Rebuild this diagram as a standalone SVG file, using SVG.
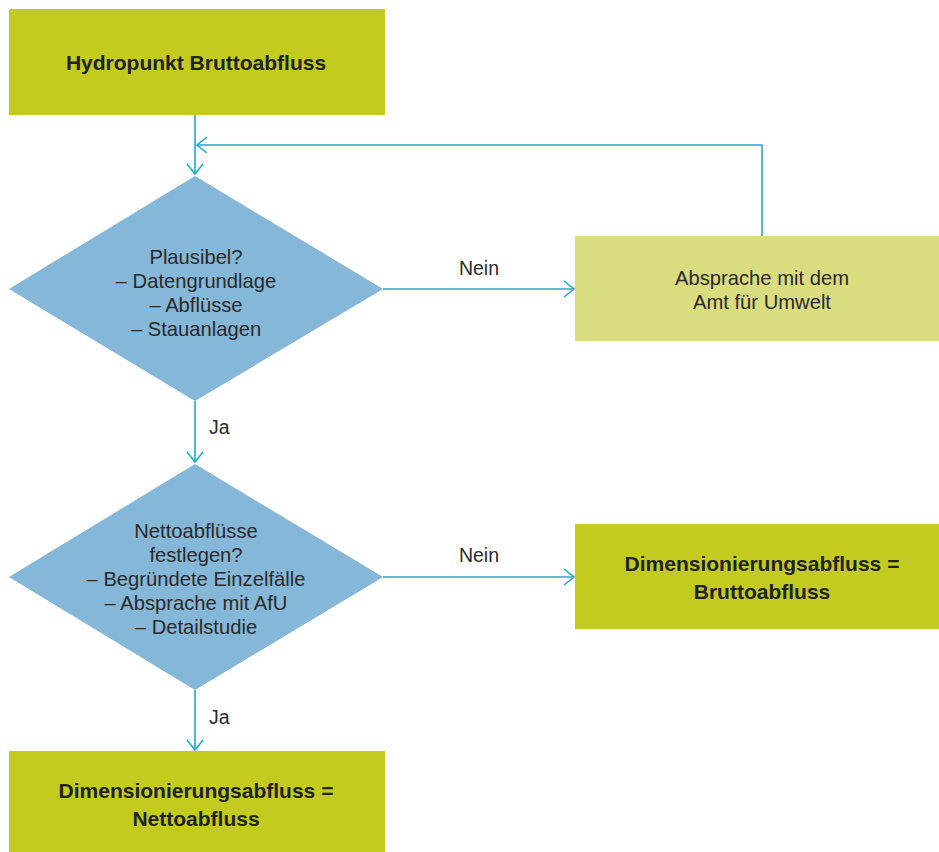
<svg xmlns="http://www.w3.org/2000/svg" width="939" height="852" viewBox="0 0 939 852">
<defs>
<marker id="arr" markerUnits="userSpaceOnUse" viewBox="-12 -10 14 20" refX="0" refY="0" markerWidth="14" markerHeight="20" orient="auto">
<path d="M-10,-8 L0,0 L-10,8" fill="none" stroke="#1FA8D4" stroke-width="1.6"/>
</marker>
<style>
.lime{fill:#C3CB1F}
.pale{fill:#DADC80}
.dia{fill:#84B7D8}
.b{font-family:"Liberation Sans",Arial,sans-serif;font-weight:bold;font-size:21px;fill:#222;text-anchor:middle}
.r{font-family:"Liberation Sans",Arial,sans-serif;font-size:20.2px;fill:#2a2a2a;text-anchor:middle}
.l{font-family:"Liberation Sans",Arial,sans-serif;font-size:19.5px;fill:#2a2a2a}
.c{fill:none;stroke:#1FA8D4;stroke-width:1.6}
</style>
</defs>
<rect width="939" height="852" fill="#fff"/>
<g id="connectors">
<path class="c" d="M195,115 V174" marker-end="url(#arr)"/>
<path class="c" d="M762,236 V145 H197" marker-end="url(#arr)"/>
<path class="c" d="M383,289 H574" marker-end="url(#arr)"/>
<path class="c" d="M195,401 V462" marker-end="url(#arr)"/>
<path class="c" d="M383,577 H574" marker-end="url(#arr)"/>
<path class="c" d="M195,690 V750" marker-end="url(#arr)"/>
<text class="l" x="479" y="275" text-anchor="middle">Nein</text>
<text class="l" x="479" y="562" text-anchor="middle">Nein</text>
<text class="l" x="209" y="434">Ja</text>
<text class="l" x="209" y="724">Ja</text>
</g>
<g id="start">
<rect class="lime" x="9" y="9" width="376" height="106"/>
<text class="b" x="196" y="70">Hydropunkt Bruttoabfluss</text>
</g>
<g id="plausibel">
<polygon class="dia" points="195,176 383,289 195,401 9,289"/>
<text class="r" x="196" y="264">Plausibel?</text>
<text class="r" x="196" y="288">– Datengrundlage</text>
<text class="r" x="196" y="312">– Abflüsse</text>
<text class="r" x="196" y="336">– Stauanlagen</text>
</g>
<g id="absprache">
<rect class="pale" x="575" y="236" width="364" height="105"/>
<text class="r" x="762" y="285">Absprache mit dem</text>
<text class="r" x="762" y="309">Amt für Umwelt</text>
</g>
<g id="netto">
<polygon class="dia" points="195,464 383,577 195,690 9,577"/>
<text class="r" x="196" y="538">Nettoabflüsse</text>
<text class="r" x="196" y="562">festlegen?</text>
<text class="r" x="196" y="586">– Begründete Einzelfälle</text>
<text class="r" x="196" y="610">– Absprache mit AfU</text>
<text class="r" x="196" y="634">– Detailstudie</text>
</g>
<g id="brutto">
<rect class="lime" x="575" y="524" width="364" height="105"/>
<text class="b" x="762" y="571">Dimensionierungsabfluss =</text>
<text class="b" x="762" y="599">Bruttoabfluss</text>
</g>
<g id="nettoabfluss">
<rect class="lime" x="9" y="751" width="376" height="105"/>
<text class="b" x="196" y="798">Dimensionierungsabfluss =</text>
<text class="b" x="196" y="826">Nettoabfluss</text>
</g>
</svg>
